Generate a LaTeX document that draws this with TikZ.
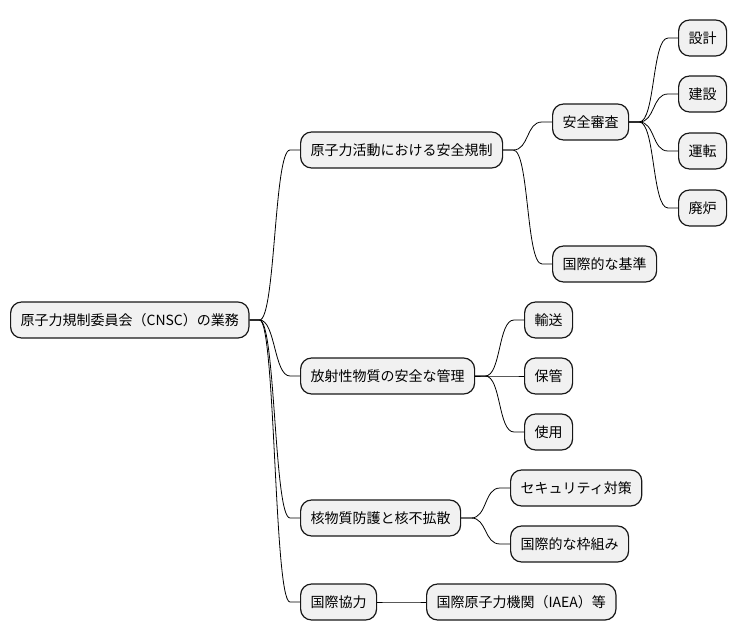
\documentclass[tikz,border=0pt]{standalone}
\usepackage{fontspec}
\usetikzlibrary{calc}
\newfontfamily\cjk{Noto Sans CJK JP}
\definecolor{boxfill}{HTML}{F1F1F1}
\definecolor{boxline}{HTML}{181818}
\tikzset{
  topic/.style={draw=boxline, fill=boxfill, line width=1.2pt, rounded corners=11pt,
    minimum height=36pt, inner xsep=10pt, inner ysep=0pt, anchor=west,
    font=\cjk\fontsize{14}{16}\selectfont},
  wire/.style={black, line width=0.8pt},
}
% parent, child: short stub, S-curve, short stub
\newcommand{\branch}[2]{%
  \draw[wire] (#1.east) -- ++(10,0) .. controls +(16,0) and ($(#2.west)+(-26,0)$) .. ($(#2.west)+(-10,0)$) -- (#2.west);}

\begin{document}
\begin{tikzpicture}[x=1pt, y=-1pt]
  \useasboundingbox (0,0) rectangle (737,640);
  % root and first level
  \node[topic] (root) at (10,320) {原子力規制委員会（CNSC）の業務};
  \node[topic] (safety) at (300,150) {原子力活動における安全規制};
  \node[topic] (radio) at (300,376) {放射性物質の安全な管理};
  \node[topic] (nuclear) at (300,518) {核物質防護と核不拡散};
  \node[topic] (intl) at (300,602) {国際協力};
  % second level
  \node[topic] (review) at (552,122) {安全審査};
  \node[topic] (stdintl) at (552,264) {国際的な基準};
  \node[topic] (transport) at (524,320) {輸送};
  \node[topic] (storage) at (524,376) {保管};
  \node[topic] (usage) at (524,432) {使用};
  \node[topic] (security) at (510,488) {セキュリティ対策};
  \node[topic] (frame) at (510,544) {国際的な枠組み};
  \node[topic] (iaea) at (426,602) {国際原子力機関（IAEA）等};
  % third level
  \node[topic] (design) at (678,38) {設計};
  \node[topic] (build) at (678,94) {建設};
  \node[topic] (operate) at (678,151) {運転};
  \node[topic] (decom) at (678,208) {廃炉};
  % connectors
  \foreach \c in {safety,radio,nuclear,intl} {\branch{root}{\c}}
  \foreach \c in {review,stdintl} {\branch{safety}{\c}}
  \foreach \c in {design,build,operate,decom} {\branch{review}{\c}}
  \foreach \c in {transport,storage,usage} {\branch{radio}{\c}}
  \foreach \c in {security,frame} {\branch{nuclear}{\c}}
  \branch{intl}{iaea}
\end{tikzpicture}
\end{document}
